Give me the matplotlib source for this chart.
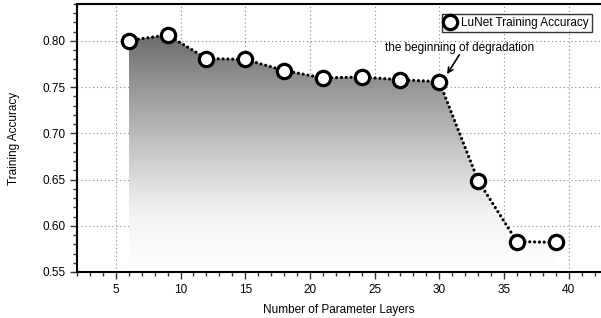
import matplotlib
matplotlib.use("Agg")
import matplotlib.pyplot as plt
import numpy as np
from matplotlib.colors import LinearSegmentedColormap
from matplotlib.ticker import MultipleLocator

plt.rcParams['font.family'] = ['Liberation Sans', 'DejaVu Sans']

layers = [6, 9, 12, 15, 18, 21, 24, 27, 30, 33, 36, 39]
accuracy = [0.8005, 0.8065, 0.781, 0.780, 0.768, 0.760, 0.761, 0.758, 0.756, 0.649, 0.583, 0.582]
series_label = "LuNet Training Accuracy"
annot_text = "the beginning of degradation"

FS = 8.5
fig = plt.figure(figsize=(6.01, 3.18), dpi=100)
ax = fig.add_axes([77/601, 1 - 272/318, 1 - 77/601, (272 - 4)/318])
ax.set_xlim(2, 42.5)
ax.set_ylim(0.55, 0.84)

# gradient fill under the curve
poly = ax.fill_between(layers, accuracy, 0.55, color='none', lw=0)
cmap = LinearSegmentedColormap.from_list('g', ['#ffffff', '#f2f2f2', '#c8c8c8', '#9a9a9a', '#6a6a6a'])
grad = np.linspace(0, 1, 256).reshape(-1, 1)
im = ax.imshow(grad, extent=[layers[0], layers[-1], 0.55, 0.81], origin='lower',
               cmap=cmap, aspect='auto', zorder=1, interpolation='bilinear')
path = poly.get_paths()[0]
im.set_clip_path(path, transform=ax.transData)

ax.plot(layers, accuracy, color='black', lw=2.3, linestyle=(0, (0.01, 1.5)),
        dash_capstyle='round', marker='o', markersize=10.3, markerfacecolor='white',
        markeredgecolor='black', markeredgewidth=2.3, zorder=3, label=series_label)

ax.grid(True, which='major', color='#888888', linestyle=(0, (1, 2.5)), lw=0.8)
ax.set_axisbelow(True)
ax.xaxis.set_major_locator(MultipleLocator(5))
ax.xaxis.set_minor_locator(MultipleLocator(1))
ax.yaxis.set_major_locator(MultipleLocator(0.05))
ax.yaxis.set_minor_locator(MultipleLocator(0.01))
ax.tick_params(which='both', direction='out', labelsize=FS, width=1, color='#333333')
ax.tick_params(which='major', length=5)
ax.tick_params(which='minor', length=3)
ax.set_xticks([5, 10, 15, 20, 25, 30, 35, 40])
ax.set_xticklabels(['5', '10', '15', '20', '25', '30', '35', '40'])
ax.set_yticks([0.55, 0.60, 0.65, 0.70, 0.75, 0.80])
ax.set_yticklabels(['0.55', '0.60', '0.65', '0.70', '0.75', '0.80'])
ax.spines['right'].set_visible(False)
for s in ['left', 'bottom', 'top']:
    ax.spines[s].set_linewidth(1.5)
    ax.spines[s].set_color('black')

ax.set_xlabel("Number of Parameter Layers", fontsize=FS, labelpad=6)
ax.set_ylabel("Training Accuracy", fontsize=FS, labelpad=16)

ax.text(25.8, 0.7924, annot_text, fontsize=FS, va='center', ha='left')
ax.annotate('', xy=(30.6, 0.7641), xytext=(31.55, 0.7850),
            arrowprops=dict(arrowstyle='->', color='black', lw=1.2, shrinkA=0, shrinkB=0,
                            mutation_scale=9))

leg = ax.legend(loc='upper right', bbox_to_anchor=(592/601, 1 - 14/318), bbox_transform=fig.transFigure,
                fontsize=FS, frameon=True, fancybox=False, handlelength=0.9, handletextpad=0.5,
                borderpad=0.25, borderaxespad=0)
leg.get_frame().set_edgecolor('black')
leg.get_frame().set_linewidth(1.0)
for h in leg.legend_handles:
    h.set_linestyle('none')

fig.savefig("out.png", dpi=100)
